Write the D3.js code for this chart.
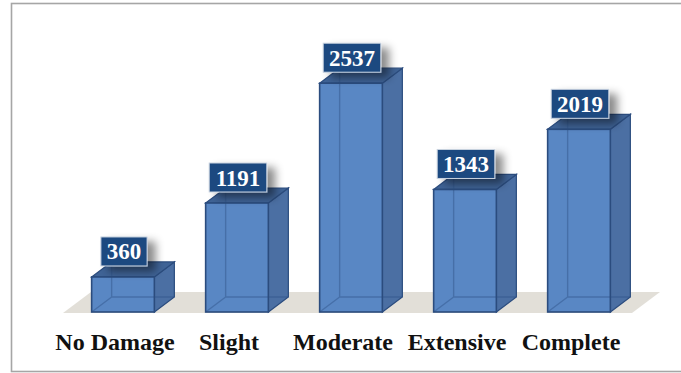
<!DOCTYPE html>
<html>
<head>
<meta charset="utf-8">
<script src="https://cdn.jsdelivr.net/npm/d3@7"></script>
<style>
  html, body { margin: 0; padding: 0; background: #fff; }
  svg { display: block; }
</style>
</head>
<body>
<svg id="chart" width="681" height="373"></svg>
<script>
// Damage-state counts
const categories = ["No Damage", "Slight", "Moderate", "Extensive", "Complete"];
const counts = [360, 1191, 2537, 1343, 2019];

const W = 681, H = 373;
const svg = d3.select("#chart");

// drop shadow used under the value badges
const defs = svg.append("defs");
const f = defs.append("filter").attr("id", "badgeShadow")
  .attr("x", "-30%").attr("y", "-30%").attr("width", "180%").attr("height", "180%");
f.append("feDropShadow").attr("dx", 8).attr("dy", 5).attr("stdDeviation", 4.5)
  .attr("flood-color", "#000").attr("flood-opacity", 0.45);

// outer frame
svg.append("rect")
  .attr("x", 11.5).attr("y", 3.5).attr("width", 700).attr("height", 368)
  .attr("fill", "none").attr("stroke", "#a6a6a6").attr("stroke-width", 1.6);

const x = d3.scaleBand().domain(categories).range([66, 636])
  .paddingInner(0.45).paddingOuter(0.225);
const y = d3.scaleLinear().domain([0, 3000]).range([309, 42]);

const baseY = 312;          // front edge of the bars' bottoms
const depthX = 20, depthY = 15;   // oblique depth of each bar

// floor
const floor = { x0: 63, x1: 632, y0: 313, dx: 28, dy: 21 };
svg.append("polygon")
  .attr("points", [
    [floor.x0, floor.y0], [floor.x1, floor.y0],
    [floor.x1 + floor.dx, floor.y0 - floor.dy], [floor.x0 + floor.dx, floor.y0 - floor.dy]
  ].map(p => p.join(",")).join(" "))
  .attr("fill", "#e2dfd8");

const edge = "#2b4c7e";
const bars = svg.append("g").selectAll("g").data(counts).join("g");

bars.each(function (v, i) {
  const g = d3.select(this);
  const x0 = x(categories[i]), w = x.bandwidth(), x1 = x0 + w;
  const yt = y(v), yb = baseY;
  const pts = a => a.map(p => p.join(",")).join(" ");

  // right side
  g.append("polygon")
    .attr("points", pts([[x1, yt], [x1 + depthX, yt - depthY], [x1 + depthX, yb - depthY], [x1, yb]]))
    .attr("fill", "#4b6fa3").attr("stroke", edge).attr("stroke-width", 1.2);
  // top
  g.append("polygon")
    .attr("points", pts([[x0, yt], [x0 + depthX, yt - depthY], [x1 + depthX, yt - depthY], [x1, yt]]))
    .attr("fill", "#3f6396").attr("stroke", edge).attr("stroke-width", 1.2);
  // front face
  g.append("rect")
    .attr("x", x0).attr("y", yt).attr("width", w).attr("height", yb - yt)
    .attr("fill", "#5987c4");
  // hidden edges showing through the glassy front
  g.append("path")
    .attr("d", `M${x0 + depthX},${yt - depthY}V${yb - depthY}H${x1 + depthX}M${x0 + depthX},${yb - depthY}L${x0},${yb}`)
    .attr("fill", "none").attr("stroke", "#2f5288").attr("stroke-width", 1.4).attr("opacity", 0.45);
  // front outline
  g.append("rect")
    .attr("x", x0).attr("y", yt).attr("width", w).attr("height", yb - yt)
    .attr("fill", "none").attr("stroke", edge).attr("stroke-width", 1.6);

  // value badge
  const label = String(v);
  const bw = 12 + label.length * 11.4, bh = 29;
  const cx = x0 + w / 2 + 1;
  const by = yt - 11 - bh;
  g.append("rect")
    .attr("x", cx - bw / 2).attr("y", by).attr("width", bw).attr("height", bh)
    .attr("fill", "#1f4a80").attr("stroke", "#c9d3e0").attr("stroke-width", 1)
    .attr("filter", "url(#badgeShadow)");
  g.append("text")
    .attr("x", cx).attr("y", by + bh / 2 + 8)
    .attr("text-anchor", "middle")
    .attr("font-family", "'Liberation Serif', 'Times New Roman', serif")
    .attr("font-weight", "bold").attr("font-size", 23)
    .attr("fill", "#fff").text(label);
});

// category labels
svg.append("g").selectAll("text").data(categories).join("text")
  .attr("x", d => x(d) + x.bandwidth() / 2 - 8)
  .attr("y", 350)
  .attr("text-anchor", "middle")
  .attr("font-family", "'Liberation Serif', 'Times New Roman', serif")
  .attr("font-weight", "bold").attr("font-size", 24)
  .attr("fill", "#111").text(d => d);
</script>
</body>
</html>
